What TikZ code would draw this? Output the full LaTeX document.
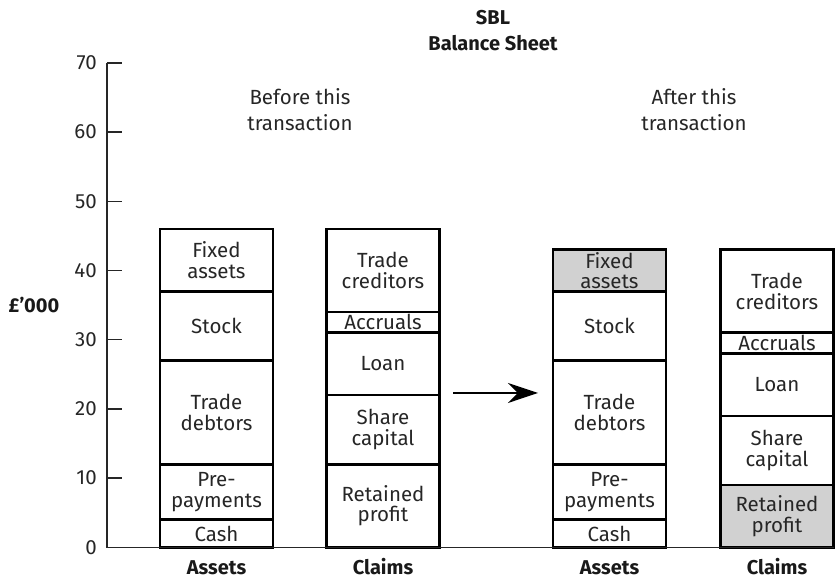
\documentclass[tikz,border=0pt]{standalone}
\usepackage{fontspec}
\setmainfont{Fira Sans}
\usetikzlibrary{arrows.meta, positioning}
\tikzstyle{module} = [rectangle, minimum width=113pt, inner sep=0pt, outer sep=0pt, text centered, align=center, draw=black, line width=2.6pt, text=black!85, font=\fontsize{20.5}{20.5}\selectfont]
\tikzset{seg/.style={module, minimum height=#1*6.92pt}}
\definecolor{changed}{gray}{0.82}

\begin{document}
\begin{tikzpicture}[x=1pt, y=6.92pt]
        \tikzstyle{heading} = [align=center, inner sep=0pt, text=black!85, font=\fontsize{20.5}{26}\selectfont]
        \tikzstyle{caption} = [inner sep=0pt, text=black!90, font=\bfseries\fontsize{20}{26}\selectfont]
        \tikzstyle{axis} = [line width=1.3pt, black!85]

        \useasboundingbox (-107,-4.87) rectangle (728,79.09);

        % before: assets
        \node[seg=4, anchor=south] (cashA) at (109.5,0) {Cash};
        \node[seg=8, above=0pt of cashA] (prepayA) {Pre-\\payments};
        \node[seg=15, above=0pt of prepayA] (debtorsA) {Trade\\debtors};
        \node[seg=10, above=0pt of debtorsA] (stockA) {Stock};
        \node[seg=9, above=0pt of stockA] (fixedA) {Fixed\\assets};

        % before: claims
        \node[seg=12, anchor=south] (profitA) at (276,0) {Retained\\profit};
        \node[seg=10, above=0pt of profitA] (shareA) {Share\\capital};
        \node[seg=9, above=0pt of shareA] (loanA) {Loan};
        \node[seg=3, above=0pt of loanA] (accrualsA) {Accruals};
        \node[seg=12, above=0pt of accrualsA] (creditorsA) {Trade\\creditors};

        % after: assets
        \node[seg=4, anchor=south] (cashB) at (502.5,0) {Cash};
        \node[seg=8, above=0pt of cashB] (prepayB) {Pre-\\payments};
        \node[seg=15, above=0pt of prepayB] (debtorsB) {Trade\\debtors};
        \node[seg=10, above=0pt of debtorsB] (stockB) {Stock};
        \node[seg=6, fill=changed, above=0pt of stockB] (fixedB) {Fixed\\assets};

        % after: claims
        \node[seg=9, fill=changed, anchor=south] (profitB) at (670,0) {Retained\\profit};
        \node[seg=10, above=0pt of profitB] (shareB) {Share\\capital};
        \node[seg=9, above=0pt of shareB] (loanB) {Loan};
        \node[seg=3, above=0pt of loanB] (accrualsB) {Accruals};
        \node[seg=12, above=0pt of accrualsB] (creditorsB) {Trade\\creditors};

        % axis
        \coordinate (origin) at (0,0);
        \coordinate (axisTop) at (0,70);
        \draw[axis] (axisTop) -- (origin) -- (profitB.south east);
        \foreach \v in {10,20,...,70} {
            \draw[axis] (0,\v) -- (15,\v);
        }
        \foreach \v in {0,10,...,70} {
            \node[heading, anchor=east] (tick\v) at (-10,\v) {\v};
        }
        \node[caption] (unit) at (-73,35.0) {£'000};

        % headings
        \node[caption, align=center] (title) at (386,74.7) {SBL\\Balance Sheet};
        \node[heading] (before) at (193,63.3) {Before this\\transaction};
        \node[heading] (after) at (587,63.3) {After this\\transaction};

        \node[caption, anchor=base] (assetsA) at (109.5,-4.0) {Assets};
        \node[caption, anchor=base] (claimsA) at (276,-4.0) {Claims};
        \node[caption, anchor=base] (assetsB) at (502.5,-4.0) {Assets};
        \node[caption, anchor=base] (claimsB) at (670,-4.0) {Claims};

        \coordinate (arrowTail) at (346,22.3);
        \coordinate (arrowHead) at (431,22.3);
        \draw[-{Stealth[length=30pt, width=20pt]}, line width=1.2pt] (arrowTail) -- (arrowHead);

    \end{tikzpicture}
\end{document}
